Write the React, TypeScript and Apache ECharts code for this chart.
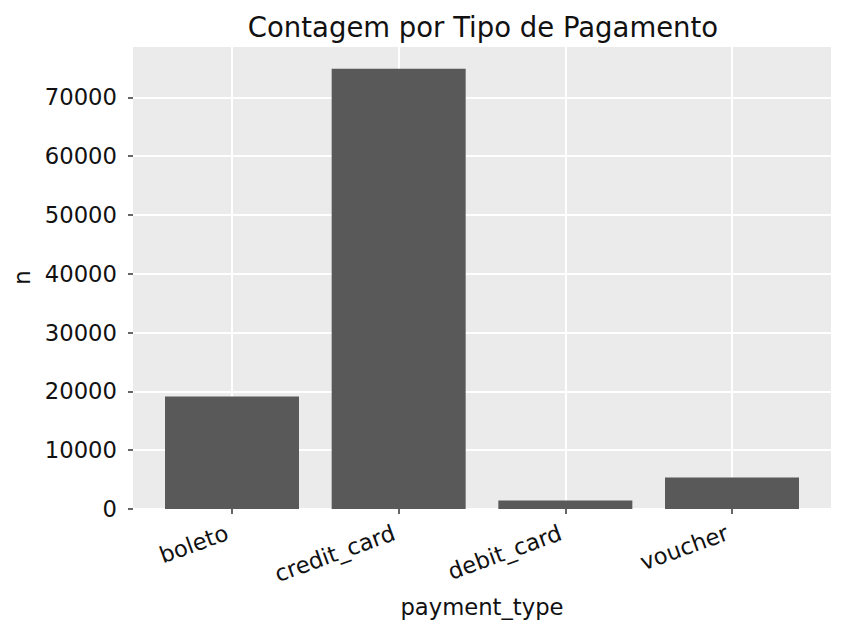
import React, { useEffect, useRef } from "react";
import * as echarts from "echarts";

const categories = ["boleto", "credit_card", "debit_card", "voucher"];
const counts = [19150, 74900, 1450, 5350];
const yMax = 78750;
const yTickStep = 10000;

export default function App() {
  const ref = useRef<HTMLDivElement>(null);
  useEffect(() => {
    document.body.style.margin = "0";
    const chart = echarts.init(ref.current!, null, { renderer: "svg" });
    const font = "DejaVu Sans";
    chart.setOption({
      animation: false,
      backgroundColor: "#ffffff",
      textStyle: { fontFamily: font },
      title: {
        text: "Contagem por Tipo de Pagamento",
        left: 478,
        top: 8,
        textAlign: "center",
        textStyle: { fontFamily: font, fontSize: 27.5, fontWeight: "normal", color: "#111" },
      },
      grid: [
        { left: 133, right: 15, top: 46, bottom: 126, show: true, backgroundColor: "#EBEBEB", borderWidth: 0 },
        { left: 232, right: 114, top: 46, bottom: 126, show: false },
      ],
      xAxis: [
        { gridIndex: 0, type: "category", data: categories, show: false },
        {
          gridIndex: 1,
          type: "category",
          data: categories,
          boundaryGap: false,
          name: "payment_type",
          nameLocation: "middle",
          nameGap: 86,
          nameTextStyle: { fontFamily: font, fontSize: 22.7, color: "#111" },
          axisLine: { show: false },
          axisTick: { show: true, length: 5, lineStyle: { color: "#333", width: 1.5 } },
          axisLabel: {
            rotate: 20,
            fontFamily: font,
            fontSize: 22.7,
            color: "#111",
            margin: 21,
            padding: [0, 5, 0, 0],
            interval: 0,
          },
          splitLine: { show: true, lineStyle: { color: "#ffffff", width: 2 } },
        },
      ],
      yAxis: [
        {
          gridIndex: 0,
          type: "value",
          min: 0,
          max: yMax,
          interval: yTickStep,
          name: "n",
          nameLocation: "middle",
          nameGap: 88,
          nameTextStyle: { fontFamily: font, fontSize: 22.7, color: "#111" },
          axisLine: { show: false },
          axisTick: { show: true, length: 5, lineStyle: { color: "#333", width: 1.5 } },
          axisLabel: {
            fontFamily: font,
            fontSize: 22.7,
            color: "#111",
            margin: 16,
            showMaxLabel: false,
            formatter: (v: number) => (v % yTickStep === 0 ? String(v) : ""),
          },
          splitLine: { show: true, lineStyle: { color: "#ffffff", width: 2 } },
        },
        { gridIndex: 1, type: "value", min: 0, max: yMax, show: false, splitLine: { show: false } },
      ],
      series: [
        {
          type: "bar",
          xAxisIndex: 1,
          yAxisIndex: 1,
          data: counts,
          barWidth: 134,
          clip: false,
          itemStyle: { color: "#595959" },
        },
      ],
    });
    return () => chart.dispose();
  }, []);
  return <div ref={ref} style={{ width: 846, height: 635 }} />;
}
